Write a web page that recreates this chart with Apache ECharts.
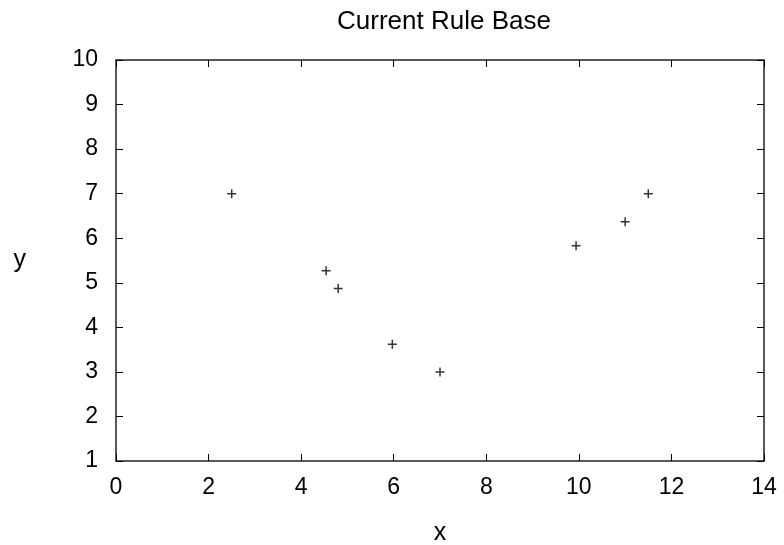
<!DOCTYPE html>
<html>
<head>
<meta charset="utf-8">
<script src="https://cdn.jsdelivr.net/npm/echarts@6/dist/echarts.min.js"></script>
<style>
  html, body { margin: 0; padding: 0; background: #fff; }
  #chart { width: 784px; height: 545px; }
</style>
</head>
<body>
<div id="chart"></div>
<script>
// Rule base points
const xValues = [2.5, 4.54, 4.8, 5.97, 7.0, 9.94, 11.0, 11.5];
const yValues = [7.0, 5.27, 4.87, 3.62, 3.0, 5.83, 6.37, 7.0];

const titleText = 'Current Rule Base';
const xName = 'x';
const yName = 'y';

const points = xValues.map((x, i) => [x, yValues[i]]);

const font = 'Liberation Sans, Arial, Helvetica, sans-serif';
// plus-shaped marker drawn as a filled outline
const plusSymbol = 'path://M3.75,0h1.5v3.75h3.75v1.5h-3.75v3.75h-1.5v-3.75h-3.75v-1.5h3.75z';

const chart = echarts.init(document.getElementById('chart'), null, { renderer: 'canvas' });

// ticks point into the plot on all four sides; the frame is the grid border
const tickStyle = { show: true, inside: true, length: 7, lineStyle: { color: '#000', width: 1 } };
const hiddenLine = { show: false, onZero: false };
const labelSize = 23;

chart.setOption({
  animation: false,
  backgroundColor: '#fff',
  title: {
    text: titleText,
    left: 439,
    top: 4,
    textAlign: 'center',
    textStyle: { fontFamily: font, fontSize: 26, fontWeight: 'normal', color: '#000' }
  },
  grid: {
    left: 116, right: 20, top: 60, bottom: 84,
    outerBoundsMode: 'none',
    containLabel: false,
    show: true, borderColor: '#222', borderWidth: 1.5, backgroundColor: 'transparent'
  },
  xAxis: [
    {
      type: 'value', min: 0, max: 14, interval: 2, position: 'bottom',
      name: xName, nameLocation: 'middle', nameGap: 60,
      nameTextStyle: { fontFamily: font, fontSize: 25, color: '#000' },
      axisLine: hiddenLine,
      axisTick: tickStyle,
      axisLabel: { fontFamily: font, fontSize: labelSize, color: '#000', margin: 15 },
      splitLine: { show: false }
    },
    {
      type: 'value', min: 0, max: 14, interval: 2, position: 'top',
      axisLine: hiddenLine, axisTick: tickStyle,
      axisLabel: { show: false }, splitLine: { show: false }
    }
  ],
  yAxis: [
    {
      type: 'value', min: 1, max: 10, interval: 1, position: 'left',
      name: yName, nameLocation: 'middle', nameGap: 90, nameRotate: 0,
      nameTextStyle: { fontFamily: font, fontSize: 25, color: '#000' },
      axisLine: hiddenLine,
      axisTick: tickStyle,
      axisLabel: { fontFamily: font, fontSize: labelSize, color: '#000', margin: 18 },
      splitLine: { show: false }
    },
    {
      type: 'value', min: 1, max: 10, interval: 1, position: 'right',
      axisLine: hiddenLine, axisTick: tickStyle,
      axisLabel: { show: false }, splitLine: { show: false }
    }
  ],
  series: [
    {
      type: 'scatter',
      xAxisIndex: 0,
      yAxisIndex: 0,
      data: points,
      symbol: plusSymbol,
      symbolSize: 9,
      itemStyle: { color: '#000' }
    }
  ]
});
</script>
</body>
</html>
